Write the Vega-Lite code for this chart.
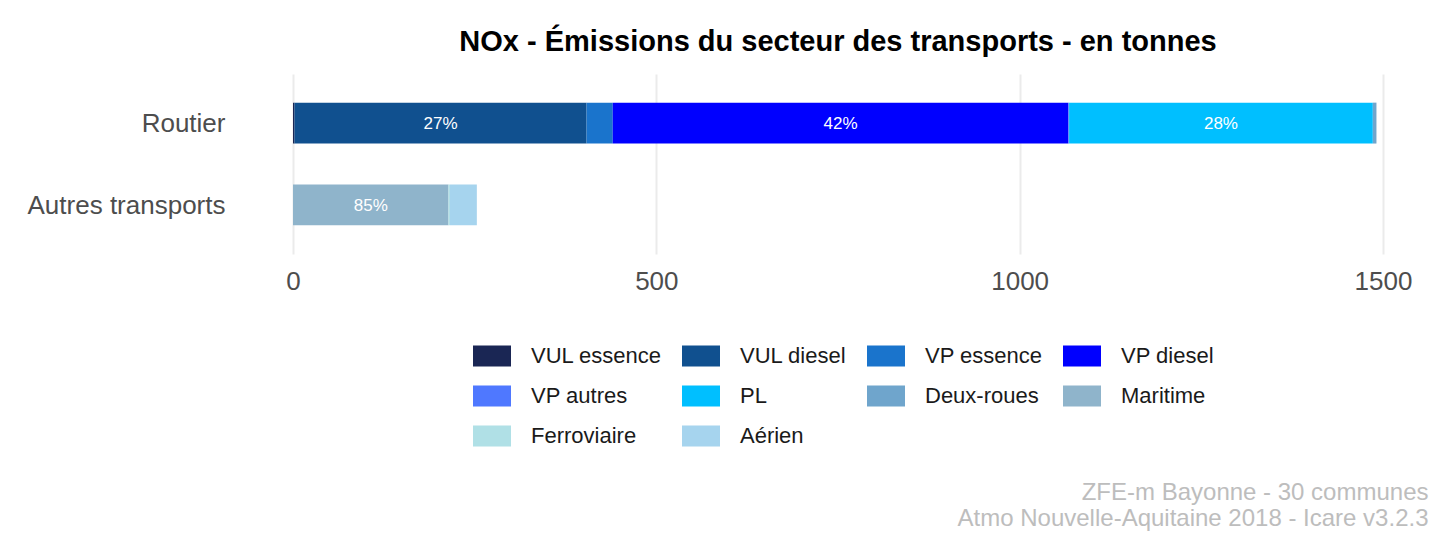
{
  "$schema": "https://vega.github.io/schema/vega-lite/v6.json",
  "width": 1090,
  "height": 180,
  "autosize": {"type": "none"},
  "padding": {"left": 293, "top": 74, "right": 55, "bottom": 285},
  "background": "white",
  "title": {
    "text": "NOx - Émissions du secteur des transports - en tonnes",
    "fontSize": 29,
    "fontWeight": "bold",
    "font": "Liberation Sans",
    "color": "black",
    "anchor": "middle",
    "offset": 17
  },
  "data": {
    "values": [
      {"categorie": "Routier", "source": "VUL essence", "ordre": 1, "valeur": 2, "etiquette": ""},
      {"categorie": "Routier", "source": "VUL diesel", "ordre": 2, "valeur": 402, "etiquette": "27%"},
      {"categorie": "Routier", "source": "VP essence", "ordre": 3, "valeur": 36, "etiquette": ""},
      {"categorie": "Routier", "source": "VP diesel", "ordre": 4, "valeur": 627, "etiquette": "42%"},
      {"categorie": "Routier", "source": "VP autres", "ordre": 5, "valeur": 1, "etiquette": ""},
      {"categorie": "Routier", "source": "PL", "ordre": 6, "valeur": 418, "etiquette": "28%"},
      {"categorie": "Routier", "source": "Deux-roues", "ordre": 7, "valeur": 5, "etiquette": ""},
      {"categorie": "Autres transports", "source": "Maritime", "ordre": 8, "valeur": 214, "etiquette": "85%"},
      {"categorie": "Autres transports", "source": "Ferroviaire", "ordre": 9, "valeur": 2, "etiquette": ""},
      {"categorie": "Autres transports", "source": "Aérien", "ordre": 10, "valeur": 37, "etiquette": ""}
    ]
  },
  "transform": [
    {"stack": "valeur", "groupby": ["categorie"], "sort": [{"field": "ordre", "order": "ascending"}], "as": ["debut", "fin"]},
    {"calculate": "(datum.debut + datum.fin) / 2", "as": "milieu"}
  ],
  "encoding": {
    "y": {
      "field": "categorie",
      "type": "nominal",
      "sort": ["Routier", "Autres transports"],
      "scale": {"paddingInner": 0.5, "paddingOuter": 0.35},
      "axis": {
        "title": null,
        "domain": false,
        "ticks": false,
        "grid": false,
        "labelFontSize": 26,
        "labelFont": "Liberation Sans",
        "labelColor": "#4d4d4d",
        "labelPadding": 68,
        "labelLimit": 400,
        "labelBaseline": "middle",
        "labelOffset": 1
      }
    }
  },
  "layer": [
    {
      "mark": {"type": "bar"},
      "encoding": {
        "x": {
          "field": "debut",
          "type": "quantitative",
          "scale": {"domain": [0, 1500], "nice": false},
          "axis": {
            "values": [0, 500, 1000, 1500],
            "domain": false,
            "ticks": false,
            "grid": true,
            "gridColor": "#ebebeb",
            "gridWidth": 2,
            "labelFontSize": 26,
            "labelFont": "Liberation Sans",
            "labelColor": "#4d4d4d",
            "labelPadding": 14,
            "labelFlush": false,
            "format": "d",
            "title": ["ZFE-m Bayonne - 30 communes", "Atmo Nouvelle-Aquitaine 2018 - Icare v3.2.3"],
            "titleX": 1135,
            "titleY": 245,
            "titleAlign": "right",
            "titleAnchor": "end",
            "titleBaseline": "alphabetic",
            "titleFont": "Liberation Sans",
            "titleFontSize": 24,
            "titleFontWeight": "normal",
            "titleColor": "#bdbdbd",
            "titleLineHeight": 26
          }
        },
        "x2": {"field": "fin"},
        "color": {
          "field": "source",
          "type": "nominal",
          "scale": {
            "domain": ["VUL essence", "VUL diesel", "VP essence", "VP diesel", "VP autres", "PL", "Deux-roues", "Maritime", "Ferroviaire", "Aérien"],
            "range": ["#1a2654", "#10508f", "#1a74cc", "#0000ff", "#4f78ff", "#00bfff", "#6fa5cc", "#8fb4cb", "#b0e0e6", "#a6d4ee"]
          },
          "legend": {
            "orient": "none",
            "legendX": 180,
            "legendY": 263,
            "direction": "horizontal",
            "columns": 4,
            "title": null,
            "symbolType": "M-1,-0.55H1V0.55H-1Z",
            "symbolSize": 1444,
            "symbolStrokeWidth": 0,
            "symbolOpacity": 1,
            "labelFontSize": 22,
            "labelFont": "Liberation Sans",
            "labelColor": "#1a1a1a",
            "labelOffset": 20,
            "columnPadding": 20,
            "rowPadding": 10,
            "gridAlign": "each",
            "labelLimit": 400,
            "padding": 0
          }
        }
      }
    },
    {
      "mark": {"type": "text", "color": "white", "fontSize": 17, "font": "Liberation Sans", "baseline": "middle", "align": "center", "dy": 1},
      "encoding": {
        "x": {"field": "milieu", "type": "quantitative"},
        "text": {"field": "etiquette"}
      }
    }
  ],
  "config": {
    "view": {"stroke": null},
    "font": "Liberation Sans"
  }
}
